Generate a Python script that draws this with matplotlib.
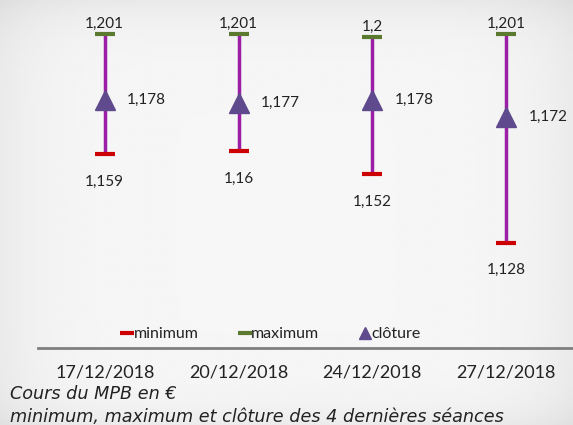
import numpy as np
import matplotlib.pyplot as plt
from matplotlib.lines import Line2D

dates = ['17/12/2018', '20/12/2018', '24/12/2018', '27/12/2018']
minimum = [1.159, 1.160, 1.152, 1.128]
maximum = [1.201, 1.201, 1.200, 1.201]
cloture = [1.178, 1.177, 1.178, 1.172]


def fr(v):
    # French number format with trimmed decimals
    return ('%.3f' % v).rstrip('0').rstrip('.').replace('.', ',')


plt.rcParams['font.family'] = ['Lato', 'DejaVu Sans']

fig = plt.figure(figsize=(5.73, 4.25), dpi=100)
fig.patch.set_facecolor('#f2f2f2')

# light background gradient (lighter in the middle)
bg = fig.add_axes([0, 0, 1, 1], zorder=-10)
xx = np.linspace(-1, 1, 200)
yy = np.linspace(-1, 1, 150)
X, Y = np.meshgrid(xx, yy)
G = 0.965 - 0.045 * (np.abs(X) ** 6) - 0.05 * np.clip(-Y, 0, 1) ** 8 - 0.04 * np.clip(Y, 0, 1) ** 10
bg.imshow(G, cmap='gray', vmin=0, vmax=1, aspect='auto', extent=[0, 1, 0, 1])
bg.axis('off')

ax = fig.add_axes([0.066, 0.181, 0.934, 0.819])
ax.patch.set_alpha(0)

x = np.arange(len(dates))
ax.vlines(x, minimum, maximum, color='#9a1fa6', linewidth=2.5, zorder=2)
ax.plot(x, minimum, linestyle='none', marker='_', markersize=14, mew=3, color='#cc0000', zorder=3)
ax.plot(x, maximum, linestyle='none', marker='_', markersize=14, mew=3, color='#5b7a30', zorder=3)
ax.plot(x, cloture, linestyle='none', marker='^', markersize=14, color='#5e4a8c', zorder=4)

for i in range(len(dates)):
    ax.annotate(fr(maximum[i]), (x[i], maximum[i]), xytext=(0, 2.5), textcoords='offset points',
                ha='center', va='bottom', fontsize=11, color='#222222')
    ax.annotate(fr(minimum[i]), (x[i], minimum[i]), xytext=(0, -15), textcoords='offset points',
                ha='center', va='top', fontsize=11, color='#222222')
    ax.annotate(fr(cloture[i]), (x[i], cloture[i]), xytext=(16, 0), textcoords='offset points',
                ha='left', va='center', fontsize=11, color='#222222')

ax.set_xlim(-0.5, 3.5)
ax.set_ylim(1.091, 1.213)
ax.set_yticks([])
ax.set_xticks(x)
ax.set_xticklabels(dates, fontsize=13, color='#222222')
ax.tick_params(axis='x', length=0, pad=12)
for s in ['top', 'right', 'left']:
    ax.spines[s].set_visible(False)
ax.spines['bottom'].set_color('#7f7f7f')
ax.spines['bottom'].set_linewidth(2)

handles = [
    Line2D([], [], linestyle='none', marker='_', markersize=10, mew=3, color='#cc0000'),
    Line2D([], [], linestyle='none', marker='_', markersize=10, mew=3, color='#5b7a30'),
    Line2D([], [], linestyle='none', marker='^', markersize=9, color='#5e4a8c'),
]
ax.legend(handles, ['minimum', 'maximum', 'clôture'], loc='center', bbox_to_anchor=(0.437, 0.04),
          ncol=3, frameon=False, fontsize=11.5, handlelength=0.6, handletextpad=0.1,
          columnspacing=2.6, labelcolor='#222222')

cap = dict(fontsize=12.7, style='italic', color='#222222', va='center', family='DejaVu Sans')
fig.text(0.017, 0.073, 'Cours du MPB en €', **cap)
fig.text(0.017, 0.02, 'minimum, maximum et clôture des 4 dernières séances', **cap)

fig.savefig('out.png', dpi=100)
